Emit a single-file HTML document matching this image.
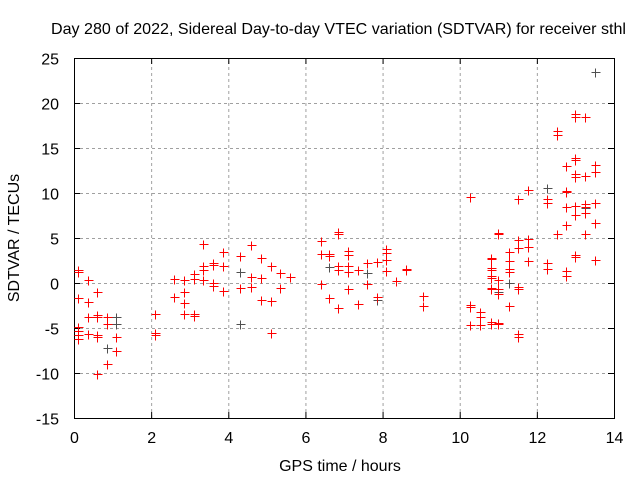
<!DOCTYPE html>
<html><head><meta charset="utf-8"><style>
body{margin:0;background:#fff;}
svg{display:block;font-family:"Liberation Sans",sans-serif;}
</style></head><body>
<svg id="chart" width="640" height="480" viewBox="0 0 640 480">
<rect width="640" height="480" fill="#fff"/>
<text x="51" y="34" font-size="16" textLength="575" lengthAdjust="spacingAndGlyphs">Day 280 of 2022, Sidereal Day-to-day VTEC variation (SDTVAR) for receiver sthl</text>
<g id="grid"></g>
<g id="axes"></g>
<g id="marks"></g>
<text x="340" y="471" font-size="16" text-anchor="middle">GPS time / hours</text>
<text transform="translate(19,238) rotate(-90)" font-size="16" text-anchor="middle">SDTVAR / TECUs</text>
</svg>
<script>
const xTicks=[0,2,4,6,8,10,12,14];
const yTicks=[-15,-10,-5,0,5,10,15,20,25];
const hoursRed=[0.1,0.1,0.1,0.1,0.1,0.1,0.1,0.35,0.35,0.35,0.35,0.6,0.6,0.6,0.6,0.6,0.6,0.85,0.85,0.85,1.1,1.1,
2.1,2.1,2.1,2.6,2.6,2.85,2.85,2.85,2.85,3.1,3.1,3.1,3.1,3.35,3.35,3.35,3.35,3.6,3.6,3.6,3.6,3.85,3.85,3.85,
4.3,4.3,4.6,4.6,4.6,4.85,4.85,4.85,5.1,5.1,5.1,5.35,5.35,5.6,6.4,6.4,6.4,6.6,6.6,6.6,6.85,6.85,6.85,6.85,6.85,
7.1,7.1,7.1,7.1,7.1,7.35,7.35,7.6,7.6,7.85,7.85,8.1,8.1,8.1,8.1,8.35,8.6,8.6,9.05,9.05,
10.27,10.27,10.27,10.27,10.53,10.53,10.53,10.8,10.8,10.8,10.8,10.8,10.8,10.8,10.8,10.8,10.8,
11.0,11.0,11.0,11.0,11.0,11.0,11.0,11.28,11.28,11.28,11.28,11.28,11.5,11.5,11.5,11.5,11.5,11.5,11.5,
11.77,11.77,11.77,11.77,12.27,12.27,12.27,12.27,12.52,12.52,12.52,12.75,12.75,12.75,12.75,12.75,12.75,12.75,
13.0,13.0,13.0,13.0,13.0,13.0,13.0,13.0,13.0,13.0,13.25,13.25,13.25,13.25,13.25,13.25,13.5,13.5,13.5,13.5,13.5];
const tecRed=[1.4,1.2,-1.7,-4.9,-5.3,-5.8,-6.2,0.3,-2.1,-3.8,-5.7,-1,-3.5,-3.8,-5.8,-6,-10.1,-3.8,-4.6,-9,-6,-7.5,
-3.4,-5.5,-5.8,0.4,-1.5,0.3,-1,-2.2,-3.4,1,0.5,-3.4,-3.7,4.3,1.9,1.4,0.3,2.2,2,0,-0.3,3.4,1.9,-0.9,
3,-0.5,4.2,0.7,-0.4,2.8,0.6,-1.9,1.9,-2,-5.5,1.1,-0.5,0.7,4.7,3.2,-0.1,3.2,3,-1.7,5.7,5.5,1.9,1.5,-2.8,
3.6,3.1,1.9,1.2,-0.7,1.5,-2.3,2.2,-0.1,2.3,-1.5,3.8,3.3,2.6,1.3,0.2,1.6,1.4,-1.4,-2.5,
9.6,-2.4,-2.7,-4.7,-3.2,-3.8,-4.7,2.8,2.7,1.7,1.5,0.8,0.6,-0.6,-0.7,-4.3,-4.5,
5.6,5.5,0.3,-0.7,-1.2,-4.4,-4.5,3.5,2.4,1.6,1.2,-2.5,9.3,4.8,3.9,-0.4,-0.7,-5.7,-6,
10.3,4.9,4,2.5,9.3,8.9,2.2,1.6,16.9,16.5,5.5,13,10.2,10.1,8.5,6.5,1.3,0.8,
18.8,18.4,13.9,13.7,12.1,11.8,8.6,7.6,3.1,2.9,18.4,11.9,8.8,8.5,5.5,7.8,13.1,12.3,8.9,6.7,2.6];
const hoursGrey=[0.85,1.1,1.1,4.3,4.3,6.6,7.6,7.85,11.28,11.0,12.27,12.27,13.5,13.5,13.25];
const tecGrey=[-7.2,-3.8,-4.6,1.2,-4.5,1.8,1.1,-1.9,0,-1,10.6,1.6,23.5,8.9,8.3];
const X0=74,X1=614,Y0=418,Y1=58;
const xs=v=>X0+(v-0)/(14-0)*(X1-X0);
const ys=v=>Y0-(v+15)/(40)*(Y0-Y1);
const NS='http://www.w3.org/2000/svg';
function mk(tag,attrs,parent){const e=document.createElementNS(NS,tag);for(const k in attrs)e.setAttribute(k,attrs[k]);parent.appendChild(e);return e;}
const grid=document.getElementById('grid'),axes=document.getElementById('axes'),marks=document.getElementById('marks');
xTicks.forEach(t=>{const x=xs(t)+0.5;
 if(t>0&&t<14){const l=mk('line',{x1:x,y1:Y0,x2:x,y2:Y1,stroke:'#a0a0a0','stroke-dasharray':'3,3'},grid);
 
 }
 mk('line',{x1:x,y1:Y0,x2:x,y2:Y0-6,stroke:'#000'},axes);
 mk('line',{x1:x,y1:Y1,x2:x,y2:Y1+6,stroke:'#000'},axes);
 const tx=mk('text',{x:x,y:Y0+25,'font-size':16,'text-anchor':'middle'},axes);tx.textContent=t;
 
 
});
yTicks.forEach(t=>{const y=ys(t)+0.5;
 if(t>-15&&t<25){const l=mk('line',{x1:X0,y1:y,x2:X1,y2:y,stroke:'#a0a0a0','stroke-dasharray':'3,3'},grid);
 
 }
 mk('line',{x1:X0,y1:y,x2:X0+6,y2:y,stroke:'#000'},axes);
 mk('line',{x1:X1,y1:y,x2:X1-6,y2:y,stroke:'#000'},axes);
 const tx=mk('text',{x:X0-15,y:y+6,'font-size':16,'text-anchor':'end'},axes);tx.textContent=t;
 
 
});
const fr=mk('rect',{x:X0+0.5,y:Y1+0.5,width:X1-X0,height:Y0-Y1,fill:'none',stroke:'#000','stroke-width':1},axes);


function cross(h,v,col,name){const x=Math.round(xs(h))+0.5,y=Math.round(ys(v))+0.5;
 const g=mk('path',{d:`M${x-4},${y}H${x+5}M${x},${y-4}V${y+5}`,stroke:col,'stroke-width':1,fill:'none','shape-rendering':'crispEdges'},marks);
 
 }
hoursGrey.forEach((h,i)=>cross(h,tecGrey[i],'#505050','grey-point'));
hoursRed.forEach((h,i)=>cross(h,tecRed[i],'#ff0000','red-point'));
</script>
</body></html>
